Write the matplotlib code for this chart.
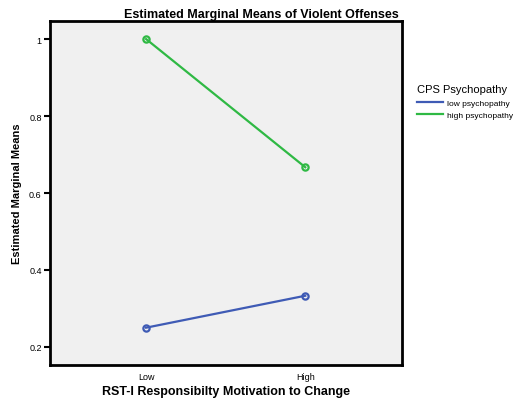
import matplotlib
matplotlib.use("Agg")
from matplotlib import pyplot as plt
from matplotlib.lines import Line2D

categories = ["Low", "High"]
low_psychopathy = [0.25, 0.333]
high_psychopathy = [1.0, 0.667]
y_ticks = [0.2, 0.4, 0.6, 0.8, 1.0]
y_tick_labels = ["0.2", "0.4", "0.6", "0.8", "1"]

plt.rcParams['font.family'] = ['Liberation Sans', 'DejaVu Sans']

blue = "#3f5bb5"
green = "#2fb944"

fig = plt.figure(figsize=(5.23, 4.02), dpi=100)
ax = fig.add_axes([50 / 523, 36 / 402, 352 / 523, 344 / 402])
ax.set_facecolor("#f0f0f0")

x = list(range(len(categories)))
ax.plot(x, low_psychopathy, color=blue, lw=1.6, marker="o", ms=4.5,
        mfc="none", mew=1.6)
ax.plot(x, high_psychopathy, color=green, lw=1.6, marker="o", ms=4.5,
        mfc="none", mew=1.6)

ax.set_xlim(-0.604, 1.608)
ax.set_ylim(0.153, 1.047)
ax.set_xticks(x)
ax.set_xticklabels(categories, fontsize=6.5)
ax.set_yticks(y_ticks)
ax.set_yticklabels(y_tick_labels, fontsize=6.5)
ax.tick_params(axis="x", length=0, pad=5)
ax.tick_params(axis="y", length=4, width=1.5, pad=2)
for s in ax.spines.values():
    s.set_linewidth(2)
    s.set_color("black")

ax.set_xlabel("RST-I Responsibilty Motivation to Change", fontsize=9,
              fontweight="bold", labelpad=3)
ax.set_ylabel("Estimated Marginal Means", fontsize=8, fontweight="bold",
              labelpad=5)
fig.text(0.5, 0.963, "Estimated Marginal Means of Violent Offenses",
         ha="center", va="center", fontsize=9, fontweight="bold")

handles = [Line2D([], [], color=blue, lw=1.6), Line2D([], [], color=green, lw=1.6)]
leg = ax.legend(handles, ["low psychopathy", "high psychopathy"],
                loc="upper left", bbox_to_anchor=(1.02, 0.84), frameon=False,
                fontsize=6, title="CPS Psychopathy", title_fontsize=8,
                handlelength=3.2, handletextpad=0.5, labelspacing=0.5)
leg._legend_box.align = "left"
leg._legend_box.sep = 4

fig.savefig("out.png", dpi=100)
